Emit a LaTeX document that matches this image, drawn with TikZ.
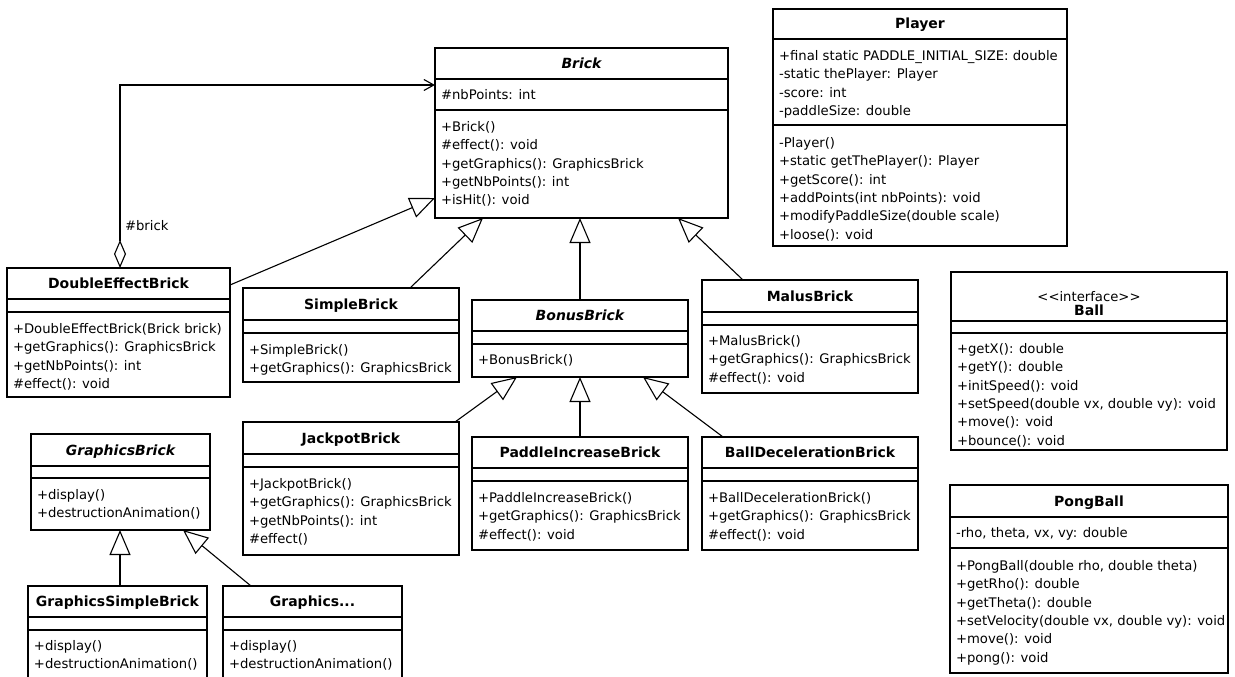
\documentclass[tikz,border=0pt]{standalone}
\usepackage{fontspec}
\setmainfont{DejaVu Sans}
\usetikzlibrary{arrows.meta,calc}
\newcommand\txtrows[4]{% #1 prefix, #2 x, #3 first centre y, #4 list
  \foreach \txt [count=\i from 0] in {#4} {
    \node[rowtext] (#1-\i) at (#2, #3+4.6+\i*18.3) {\txt};
  }}
\begin{document}
\begin{tikzpicture}[x=1pt,y=-1pt,
  every node/.style={font=\fontsize{13.2}{16}\selectfont, inner sep=0pt, outer sep=0pt},
  box/.style={draw, line width=1.2pt, anchor=north west, fill=white},
  sep/.style={line width=1.2pt},
  rowtext/.style={anchor=base west},
  title/.style={anchor=base, font=\fontsize{14}{16}\selectfont\bfseries},
  abstitle/.style={anchor=base, font=\fontsize{14}{16}\selectfont\bfseries\itshape},
  gen/.style={line width=1.1pt, -{Triangle[open, length=25pt, width=21pt]}},
  agg/.style={line width=1.1pt, {Diamond[open, length=28pt, width=12pt]}-{Straight Barb[length=10pt, width=11pt]}}
]
\useasboundingbox (0,0) rectangle (1235,677);
\fill[white] (0,0) rectangle (1235,677);
\clip (0,0) rectangle (1235,677);

% ---------- Brick ----------
\node[box, minimum width=293, minimum height=170] (brick) at (435,48) {};
\draw[sep] ([yshift=-31]brick.north west) -- ([yshift=-31]brick.north east);
\draw[sep] ([yshift=-62]brick.north west) -- ([yshift=-62]brick.north east);
\node[abstitle] (brick-t) at (581.5,68.5) {Brick};
\txtrows{brick-a}{441}{94.5}{\#nbPoints: int}
\txtrows{brick-m}{441}{127}{+Brick(),\#effect(): void,+getGraphics(): GraphicsBrick,+getNbPoints(): int,+isHit(): void}

% ---------- Player ----------
\node[box, minimum width=294, minimum height=237] (player) at (773,9) {};
\draw[sep] ([yshift=-30]player.north west) -- ([yshift=-30]player.north east);
\draw[sep] ([yshift=-116]player.north west) -- ([yshift=-116]player.north east);
\node[title] (player-t) at (920,29) {Player};
\txtrows{player-a}{779}{56}{+final static PADDLE\_INITIAL\_SIZE: double,-static thePlayer: Player,-score: int,-paddleSize: double}
\txtrows{player-m}{779}{143}{-Player(),+static getThePlayer(): Player,+getScore(): int,+addPoints(int nbPoints): void,+modifyPaddleSize(double scale),+loose(): void}

% ---------- DoubleEffectBrick ----------
\node[box, minimum width=223, minimum height=129] (deb) at (7,268) {};
\draw[sep] ([yshift=-31]deb.north west) -- ([yshift=-31]deb.north east);
\draw[sep] ([yshift=-44]deb.north west) -- ([yshift=-44]deb.north east);
\node[title] (deb-t) at (118.5,288.5) {DoubleEffectBrick};
\txtrows{deb-m}{13}{329}{+DoubleEffectBrick(Brick brick),+getGraphics(): GraphicsBrick,+getNbPoints(): int,\#effect(): void}

% ---------- SimpleBrick ----------
\node[box, minimum width=216, minimum height=94] (simple) at (243,288) {};
\draw[sep] ([yshift=-32]simple.north west) -- ([yshift=-32]simple.north east);
\draw[sep] ([yshift=-45]simple.north west) -- ([yshift=-45]simple.north east);
\node[title] (simple-t) at (351,309) {SimpleBrick};
\txtrows{simple-m}{249}{350}{+SimpleBrick(),+getGraphics(): GraphicsBrick}

% ---------- BonusBrick ----------
\node[box, minimum width=216, minimum height=77] (bonus) at (472,300) {};
\draw[sep] ([yshift=-31]bonus.north west) -- ([yshift=-31]bonus.north east);
\draw[sep] ([yshift=-44]bonus.north west) -- ([yshift=-44]bonus.north east);
\node[abstitle] (bonus-t) at (580,320.5) {BonusBrick};
\txtrows{bonus-m}{478}{360}{+BonusBrick()}

% ---------- MalusBrick ----------
\node[box, minimum width=216, minimum height=113] (malus) at (702,280) {};
\draw[sep] ([yshift=-32]malus.north west) -- ([yshift=-32]malus.north east);
\draw[sep] ([yshift=-45]malus.north west) -- ([yshift=-45]malus.north east);
\node[title] (malus-t) at (810,301) {MalusBrick};
\txtrows{malus-m}{708}{341}{+MalusBrick(),+getGraphics(): GraphicsBrick,\#effect(): void}

% ---------- JackpotBrick ----------
\node[box, minimum width=216, minimum height=133] (jack) at (243,422) {};
\draw[sep] ([yshift=-32]jack.north west) -- ([yshift=-32]jack.north east);
\draw[sep] ([yshift=-45]jack.north west) -- ([yshift=-45]jack.north east);
\node[title] (jack-t) at (351,443) {JackpotBrick};
\txtrows{jack-m}{249}{484}{+JackpotBrick(),+getGraphics(): GraphicsBrick,+getNbPoints(): int,\#effect()}

% ---------- PaddleIncreaseBrick ----------
\node[box, minimum width=216, minimum height=113] (paddle) at (472,437) {};
\draw[sep] ([yshift=-31]paddle.north west) -- ([yshift=-31]paddle.north east);
\draw[sep] ([yshift=-44]paddle.north west) -- ([yshift=-44]paddle.north east);
\node[title] (paddle-t) at (580,457.5) {PaddleIncreaseBrick};
\txtrows{paddle-m}{478}{498}{+PaddleIncreaseBrick(),+getGraphics(): GraphicsBrick,\#effect(): void}

% ---------- BallDecelerationBrick ----------
\node[box, minimum width=216, minimum height=113] (balldec) at (702,437) {};
\draw[sep] ([yshift=-31]balldec.north west) -- ([yshift=-31]balldec.north east);
\draw[sep] ([yshift=-44]balldec.north west) -- ([yshift=-44]balldec.north east);
\node[title] (balldec-t) at (810,457.5) {BallDecelerationBrick};
\txtrows{balldec-m}{708}{498}{+BallDecelerationBrick(),+getGraphics(): GraphicsBrick,\#effect(): void}

% ---------- GraphicsBrick ----------
\node[box, minimum width=179, minimum height=96] (gb) at (31,434) {};
\draw[sep] ([yshift=-32]gb.north west) -- ([yshift=-32]gb.north east);
\draw[sep] ([yshift=-44]gb.north west) -- ([yshift=-44]gb.north east);
\node[abstitle] (gb-t) at (120.5,455) {GraphicsBrick};
\txtrows{gb-m}{37}{495}{+display(),+destructionAnimation()}

% ---------- GraphicsSimpleBrick ----------
\node[box, minimum width=179, minimum height=120] (gsimple) at (28,586) {};
\draw[sep] ([yshift=-31]gsimple.north west) -- ([yshift=-31]gsimple.north east);
\draw[sep] ([yshift=-44]gsimple.north west) -- ([yshift=-44]gsimple.north east);
\node[title] (gsimple-t) at (117.5,606.5) {GraphicsSimpleBrick};
\txtrows{gsimple-m}{34}{646}{+display(),+destructionAnimation()}

% ---------- Graphics... ----------
\node[box, minimum width=179, minimum height=120] (gdots) at (223,586) {};
\draw[sep] ([yshift=-31]gdots.north west) -- ([yshift=-31]gdots.north east);
\draw[sep] ([yshift=-44]gdots.north west) -- ([yshift=-44]gdots.north east);
\node[title] (gdots-t) at (312.5,606.5) {Graphics...};
\txtrows{gdots-m}{229}{646}{+display(),+destructionAnimation()}

% ---------- Ball ----------
\node[box, minimum width=276, minimum height=178] (ball) at (951,272) {};
\draw[sep] ([yshift=-49]ball.north west) -- ([yshift=-49]ball.north east);
\draw[sep] ([yshift=-61]ball.north west) -- ([yshift=-61]ball.north east);
\node[anchor=base] (ball-s) at (1089,301.5) {<{}<interface>{}>};
\node[title] (ball-t) at (1089,315.5) {Ball};
\txtrows{ball-m}{957}{349}{+getX(): double,+getY(): double,+initSpeed(): void,{+setSpeed(double vx, double vy): void},+move(): void,+bounce(): void}

% ---------- PongBall ----------
\node[box, minimum width=278, minimum height=188] (pong) at (950,485) {};
\draw[sep] ([yshift=-32]pong.north west) -- ([yshift=-32]pong.north east);
\draw[sep] ([yshift=-63]pong.north west) -- ([yshift=-63]pong.north east);
\node[title] (pong-t) at (1089,506) {PongBall};
\txtrows{pong-a}{956}{533}{{-rho, theta, vx, vy: double}}
\txtrows{pong-m}{956}{566}{{+PongBall(double rho, double theta)},+getRho(): double,+getTheta(): double,{+setVelocity(double vx, double vy): void},+move(): void,+pong(): void}

% ---------- connectors ----------
\draw[gen] ([yshift=-17]deb.north east) -- ([yshift=20]brick.south west);
\draw[gen] ([xshift=167]simple.north west) -- ([xshift=48]brick.south west);
\draw[gen] (bonus.north) -- (bonus.north |- brick.south);
\draw[gen] ([xshift=41]malus.north west) -- ([xshift=-50]brick.south east);
\draw[gen] ([xshift=-4]jack.north east) -- ([xshift=45]bonus.south west);
\draw[gen] (paddle.north) -- (paddle.north |- bonus.south);
\draw[gen] ([xshift=21]balldec.north west) -- ([xshift=-45]bonus.south east);
\draw[gen] ([xshift=2.5]gsimple.north) -- ([xshift=2.5]gsimple.north |- gb.south);
\draw[gen] ([xshift=28]gdots.north west) -- ([xshift=-27]gb.south east);
\draw[agg] ([xshift=113]deb.north west) |- ([yshift=-37]brick.north west);
\node[anchor=west] (brick-role) at (125,226) {\#brick};
\end{tikzpicture}
\end{document}
